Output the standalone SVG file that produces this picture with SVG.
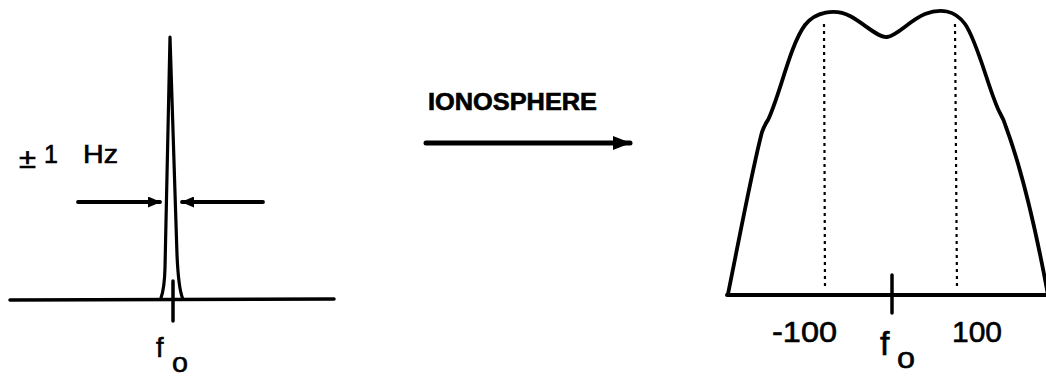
<svg xmlns="http://www.w3.org/2000/svg" width="1046" height="376" viewBox="0 0 1046 376">
<style>
.ln{fill:none;stroke:#000;stroke-linecap:round;stroke-linejoin:round}
.t{font-family:"Liberation Sans",Arial,sans-serif;fill:#000;stroke:#000;stroke-width:0.6}
.dot{fill:none;stroke:#000;stroke-width:2.2;stroke-dasharray:3,4}
</style>
<defs>
<marker id="ah" viewBox="0 0 13 11" refX="12" refY="5.5" markerWidth="13" markerHeight="11" markerUnits="userSpaceOnUse" orient="auto">
<path d="M0,0 L13,5.5 L0,11 z" fill="#000"/>
</marker>
<marker id="ahBig" viewBox="0 0 18 14" refX="17" refY="7" markerWidth="18" markerHeight="14" markerUnits="userSpaceOnUse" orient="auto">
<path d="M0,0 L18,7 L0,14 z" fill="#000"/>
</marker>
</defs>
<g id="input-spectrum">
<line class="ln" x1="10" y1="300" x2="334" y2="299" stroke-width="3.5"/>
<path class="ln" stroke-width="3.2" d="M161,298 Q164.5,288 165,268 L170,37 L177,255 Q178.5,288 182.5,298"/>
<line class="ln" x1="173" y1="281" x2="173" y2="321" stroke-width="3.5"/>
<text class="t" x="156" y="357" font-size="27">f</text>
<text class="t" x="172" y="372" font-size="27" textLength="16" lengthAdjust="spacingAndGlyphs">o</text>
<text class="t" x="19" y="168" font-size="27" textLength="17" lengthAdjust="spacingAndGlyphs">±</text>
<text class="t" x="44" y="163" font-size="25">1</text>
<text class="t" x="83" y="163" font-size="25" textLength="35" lengthAdjust="spacingAndGlyphs">Hz</text>
</g>
<g id="connectors">
<line class="ln" x1="78" y1="202" x2="160" y2="202" stroke-width="3.8" marker-end="url(#ah)"/>
<line class="ln" x1="263" y1="202" x2="182" y2="202" stroke-width="3.8" marker-end="url(#ah)"/>
<line class="ln" x1="426" y1="143" x2="630" y2="143" stroke-width="5" marker-end="url(#ahBig)"/>
</g>
<g id="ionosphere-label">
<text class="t" x="428" y="110" font-size="23" font-weight="bold" textLength="169" lengthAdjust="spacingAndGlyphs">IONOSPHERE</text>
</g>
<g id="output-spectrum">
<line class="ln" x1="727" y1="295" x2="1046" y2="295" stroke-width="4"/>
<path class="ln" stroke-width="3.8" d="M728,294 C738,245 752,170 762,132 Q765,124 768,120 C780,95 790,45 805,25 C815,12 835,8 850,16 C865,24 878,38 887,37 C897,36 910,20 925,14 C940,8 955,10 965,24 C978,42 990,95 1000,113 Q1004,120 1006,127 C1020,165 1035,225 1048,295"/>
<line class="dot" x1="824" y1="24" x2="825" y2="288"/>
<line class="dot" x1="955" y1="24" x2="957" y2="288"/>
<line class="ln" x1="892" y1="275" x2="892" y2="313" stroke-width="3.5"/>
<text class="t" x="772" y="342" font-size="30" textLength="65" lengthAdjust="spacingAndGlyphs">-100</text>
<text class="t" x="952" y="342" font-size="30" textLength="50" lengthAdjust="spacingAndGlyphs">100</text>
<text class="t" x="880" y="355" font-size="34">f</text>
<text class="t" x="897" y="368" font-size="30" textLength="18" lengthAdjust="spacingAndGlyphs">o</text>
</g>
</svg>
